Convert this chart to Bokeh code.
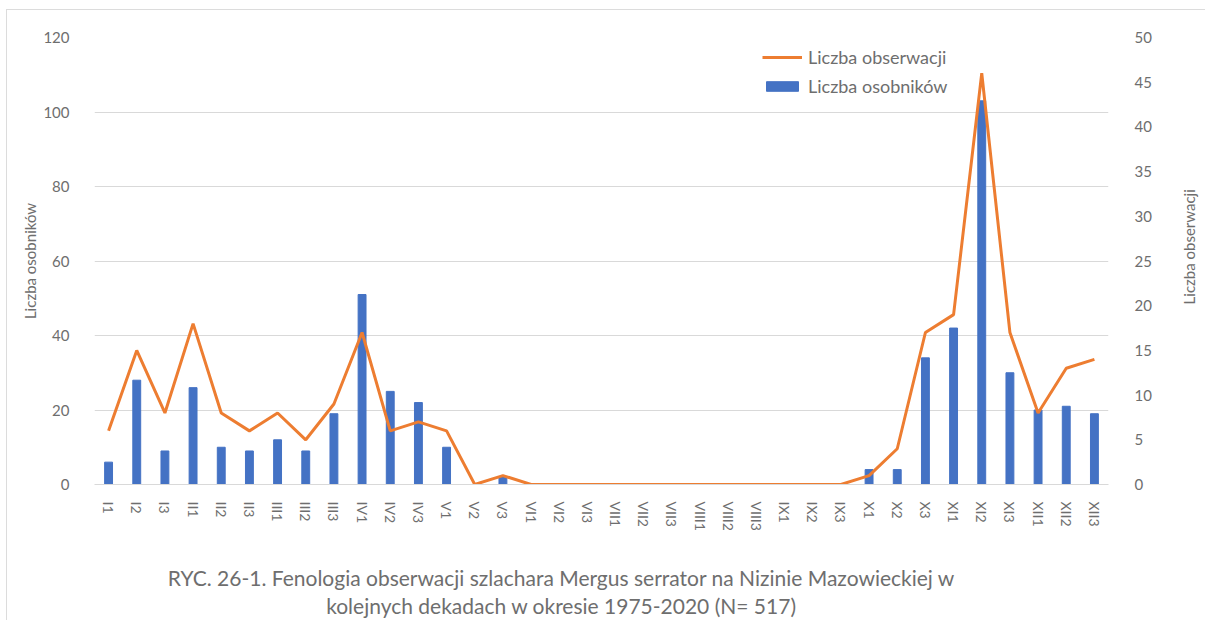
import math
from bokeh.plotting import figure
from bokeh.layouts import column, row
from bokeh.models import (FactorRange, Range1d, LinearAxis, SingleIntervalTicker,
                          Legend, LegendItem, ColumnDataSource)
from bokeh.core.properties import value
from bokeh.embed import file_html
from bokeh.resources import INLINE

# ---- data ----
categories = ["I1", "I2", "I3", "II1", "II2", "II3", "III1", "III2", "III3",
              "IV1", "IV2", "IV3", "V1", "V2", "V3", "VI1", "VI2", "VI3",
              "VII1", "VII2", "VII3", "VIII1", "VIII2", "VIII3", "IX1", "IX2", "IX3",
              "X1", "X2", "X3", "XI1", "XI2", "XI3", "XII1", "XII2", "XII3"]
osobnikow = [6, 28, 9, 26, 10, 9, 12, 9, 19,
             51, 25, 22, 10, 0, 2, 0, 0, 0,
             0, 0, 0, 0, 0, 0, 0, 0, 0,
             4, 4, 34, 42, 103, 30, 20, 21, 19]
obserwacji = [6, 15, 8, 18, 8, 6, 8, 5, 9,
              17, 6, 7, 6, 0, 1, 0, 0, 0,
              0, 0, 0, 0, 0, 0, 0, 0, 0,
              1, 4, 17, 19, 46, 17, 8, 13, 14]
left_ticks_step = 20
right_ticks_step = 5
left_label = "Liczba osobników"
right_label = "Liczba obserwacji"
caption_lines = ["RYC. 26-1. Fenologia obserwacji szlachara Mergus serrator na Nizinie Mazowieckiej w",
                 "kolejnych dekadach w okresie 1975-2020 (N= 517)"]

FONT = "Lato"
GREY = "#6e6e6e"
BLUE = "#4472C4"
ORANGE = "#ED7D31"

W_MAIN, H_MAIN = 1153, 535
W_SIDE = 45
H_CAP = 75

src = ColumnDataSource(dict(cat=categories, osob=osobnikow, obs=obserwacji))

p = figure(width=W_MAIN, height=H_MAIN, output_backend="svg", toolbar_location=None,
           x_range=FactorRange(*categories, range_padding=0),
           y_range=Range1d(0, 120),
           min_border_left=87, min_border_right=52, min_border_top=27, min_border_bottom=61)
p.extra_y_ranges = {"right": Range1d(0, 50)}
p.outline_line_color = None

bars = p.vbar(x="cat", top="osob", width=0.28, source=src, color=BLUE)
line = p.line(x="cat", y="obs", source=src, y_range_name="right",
              line_color=ORANGE, line_width=3)

p.yaxis.ticker = SingleIntervalTicker(interval=left_ticks_step)
p.yaxis.axis_label = left_label
ax_r = LinearAxis(y_range_name="right", ticker=SingleIntervalTicker(interval=right_ticks_step))
p.add_layout(ax_r, "right")

for ax in [p.yaxis[0], ax_r]:
    ax.axis_line_color = None
    ax.major_tick_line_color = None
    ax.minor_tick_line_color = None
    ax.major_label_text_font = FONT
    ax.major_label_text_font_size = "15px"
    ax.major_label_text_color = GREY
p.yaxis[0].axis_label_text_font = FONT
p.yaxis[0].axis_label_text_font_size = "15px"
p.yaxis[0].axis_label_text_font_style = "normal"
p.yaxis[0].axis_label_text_color = GREY
p.yaxis[0].major_label_standoff = 19
p.yaxis[0].axis_label_standoff = 1
ax_r.major_label_standoff = 20

xa = p.xaxis[0]
xa.axis_line_color = "#d9d9d9"
xa.major_tick_line_color = None
xa.minor_tick_line_color = None
xa.major_label_orientation = "vertical"
xa.major_label_text_font = FONT
xa.major_label_text_font_size = "14px"
xa.major_label_text_color = GREY
xa.major_label_standoff = 11

p.xgrid.grid_line_color = None
p.ygrid.grid_line_color = "#d9d9d9"
p.ygrid.grid_line_width = 1

legend = Legend(items=[LegendItem(label="Liczba obserwacji", renderers=[line]),
                       LegendItem(label="Liczba osobników", renderers=[bars])],
                location=(668, 387), orientation="vertical",
                glyph_width=40, glyph_height=12, label_height=12, spacing=7,
                label_standoff=6, padding=0, margin=0,
                border_line_color=None, background_fill_alpha=0,
                label_text_font=FONT, label_text_font_size="18px", label_text_color=GREY)
p.add_layout(legend, "center")

# right-hand axis title, reading upwards
side = figure(width=W_SIDE, height=H_MAIN, output_backend="svg", toolbar_location=None,
              x_range=Range1d(0, W_SIDE), y_range=Range1d(0, H_MAIN),
              x_axis_location=None, y_axis_location=None, min_border=0)
side.outline_line_color = None
side.grid.visible = False
side.text(x=[28], y=[H_MAIN - 250.5], text=[right_label], angle=math.pi / 2,
          text_align="center", text_baseline="middle",
          text_font=value(FONT), text_font_size="15px", text_color=GREY)

# caption
cap = figure(width=W_MAIN + W_SIDE, height=H_CAP, output_backend="svg", toolbar_location=None,
             x_range=Range1d(0, W_MAIN + W_SIDE), y_range=Range1d(0, H_CAP),
             x_axis_location=None, y_axis_location=None, min_border=0)
cap.outline_line_color = None
cap.grid.visible = False
cap.text(x=[554, 554], y=[43, 15], text=caption_lines,
         text_align="center", text_baseline="middle",
         text_font=value(FONT), text_font_size="21px", text_color=GREY)

layout = column(row(p, side, spacing=0), cap, spacing=0,
                styles={"border-left": "1px solid #dcdcdc", "border-top": "1px solid #dcdcdc",
                        "margin-left": "6px", "margin-top": "9px"})

open("out.html", "w").write(file_html(layout, INLINE))
